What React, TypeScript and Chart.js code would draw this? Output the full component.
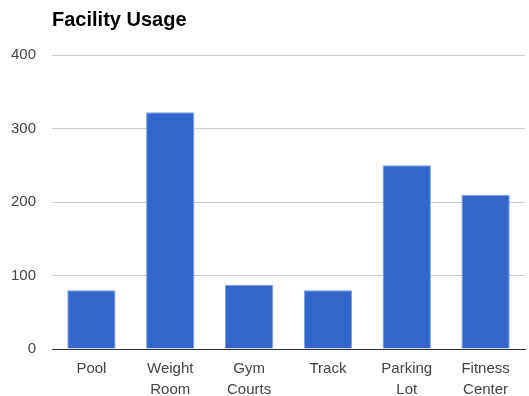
import React, { useEffect, useRef } from "react";
import { Chart, registerables } from "chart.js";

Chart.register(...registerables);

const categories: string[][] = [["Pool"], ["Weight", "Room"], ["Gym", "Courts"], ["Track"], ["Parking", "Lot"], ["Fitness", "Center"]];
const usage: number[] = [80, 322, 87, 80, 250, 210];
const yTicks: number[] = [0, 100, 200, 300, 400];
const chartTitle = "Facility Usage";

const FONT = "'Liberation Sans', Arial, sans-serif";

export default function App() {
  const ref = useRef<HTMLCanvasElement | null>(null);
  useEffect(() => {
    if (!ref.current) return;
    const chart = new Chart(ref.current, {
      type: "bar",
      data: {
        labels: categories,
        datasets: [
          {
            data: usage,
            backgroundColor: "#3366cc",
            borderColor: "#7d9ce0",
            borderWidth: 1,
            categoryPercentage: 1,
            barPercentage: 0.613,
          },
        ],
      },
      options: {
        animation: false,
        responsive: false,
        maintainAspectRatio: false,
        layout: { padding: { left: 11, right: 4, top: 0, bottom: 0 } },
        plugins: {
          legend: { display: false },
          tooltip: { enabled: false },
          title: {
            display: true,
            text: chartTitle,
            align: "start",
            fullSize: false,
            color: "#000000",
            font: { family: FONT, size: 20, weight: "bold", lineHeight: 1.2 },
            padding: { top: 8, bottom: 23 },
          },
        },
        scales: {
          x: {
            grid: { display: false, drawTicks: false },
            border: { display: true, color: "#333333", width: 1 },
            ticks: {
              color: "#444444",
              font: { family: FONT, size: 15, lineHeight: 1.43 },
              padding: 9,
              maxRotation: 0,
              autoSkip: false,
            },
            afterFit: (s: any) => {
              s.height = 47;
            },
          },
          y: {
            min: 0,
            max: 400,
            afterBuildTicks: (s: any) => {
              s.ticks = yTicks.map((v) => ({ value: v }));
            },
            grid: { color: "#cccccc", lineWidth: 1, drawTicks: false },
            border: { display: false },
            ticks: {
              color: "#444444",
              font: { family: FONT, size: 15 },
              padding: 16,
            },
            afterFit: (s: any) => {
              s.width = 41;
            },
          },
        },
      },
    });
    return () => chart.destroy();
  }, []);
  return (
    <div style={{ position: "fixed", left: 0, top: 0, width: 529, height: 396, background: "#fff" }}>
      <canvas ref={ref} width={529} height={396} style={{ display: "block", width: 529, height: 396 }} />
    </div>
  );
}
